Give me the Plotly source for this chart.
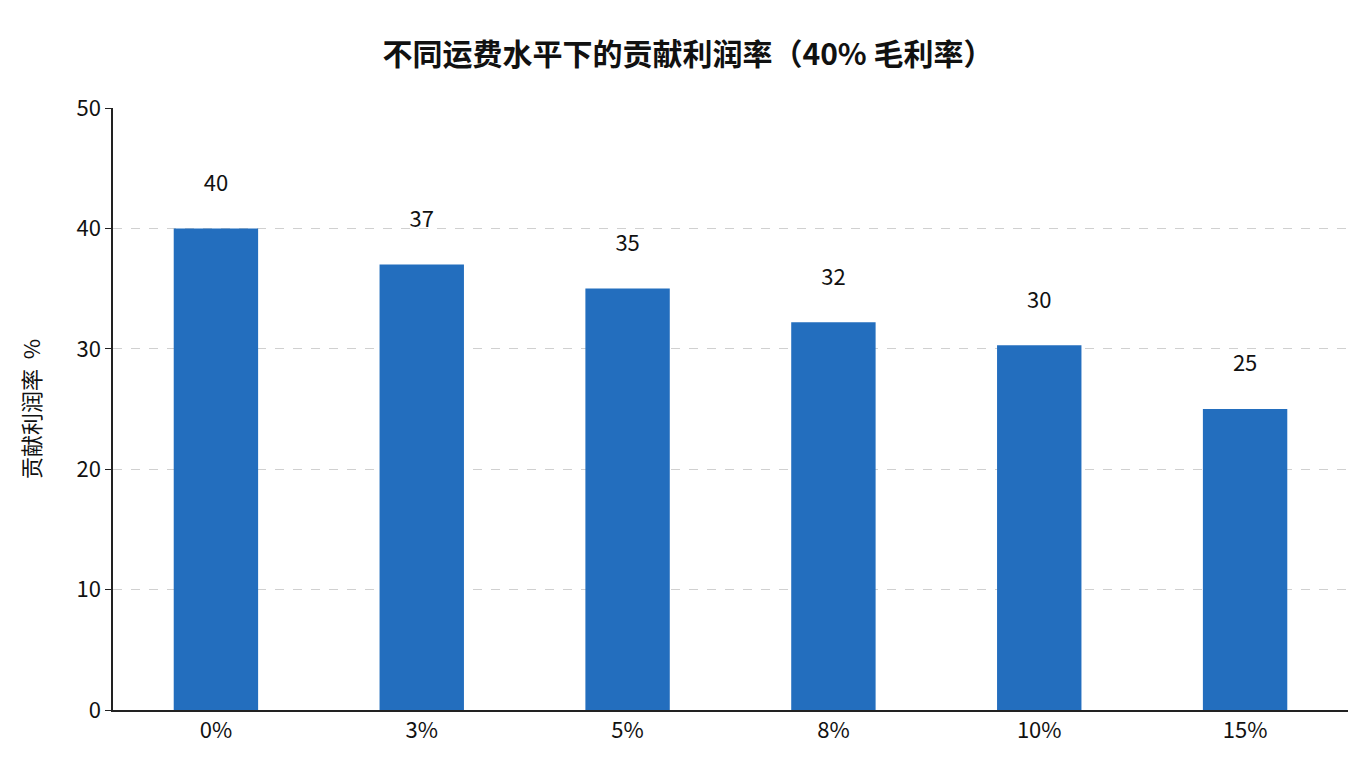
import plotly.graph_objects as go

categories = ["0%", "3%", "5%", "8%", "10%", "15%"]
values = [40, 37, 35, 32.2, 30.3, 25]
labels = ["40", "37", "35", "32", "30", "25"]

fig = go.Figure(go.Bar(
    x=categories, y=values, text=[l + "<br> " for l in labels], textposition="outside",
    marker=dict(color="#236EBE", line=dict(width=0)), width=0.41,
    textfont=dict(size=22, color="#111"), cliponaxis=False,
))
fig.update_layout(
    width=1360, height=768,
    margin=dict(l=105, r=20, t=100, b=66),
    plot_bgcolor="white", paper_bgcolor="white",
    font=dict(family="Noto Sans CJK SC", size=20, color="#111"),
    title=dict(text="<b>不同运费水平下的贡献利润率（40% 毛利率）</b>", x=0.5, xanchor="center",
               y=0.94, yanchor="middle", font=dict(size=30, color="#111")),
    showlegend=False,
)
fig.update_yaxes(range=[0, 50], dtick=10, showline=True, linecolor="#222", linewidth=1.5,
                 ticks="outside", ticklen=6, tickcolor="#222",
                 showgrid=True, gridcolor="#d0d0d0", griddash="dash",
                 title=dict(text="贡献利润率  %", font=dict(size=22), standoff=30),
                 tickfont=dict(size=22), zeroline=False)
fig.update_xaxes(showline=True, linecolor="#222", linewidth=1.5, ticks="",
                 tickfont=dict(size=22))
fig.write_html("out.html")
